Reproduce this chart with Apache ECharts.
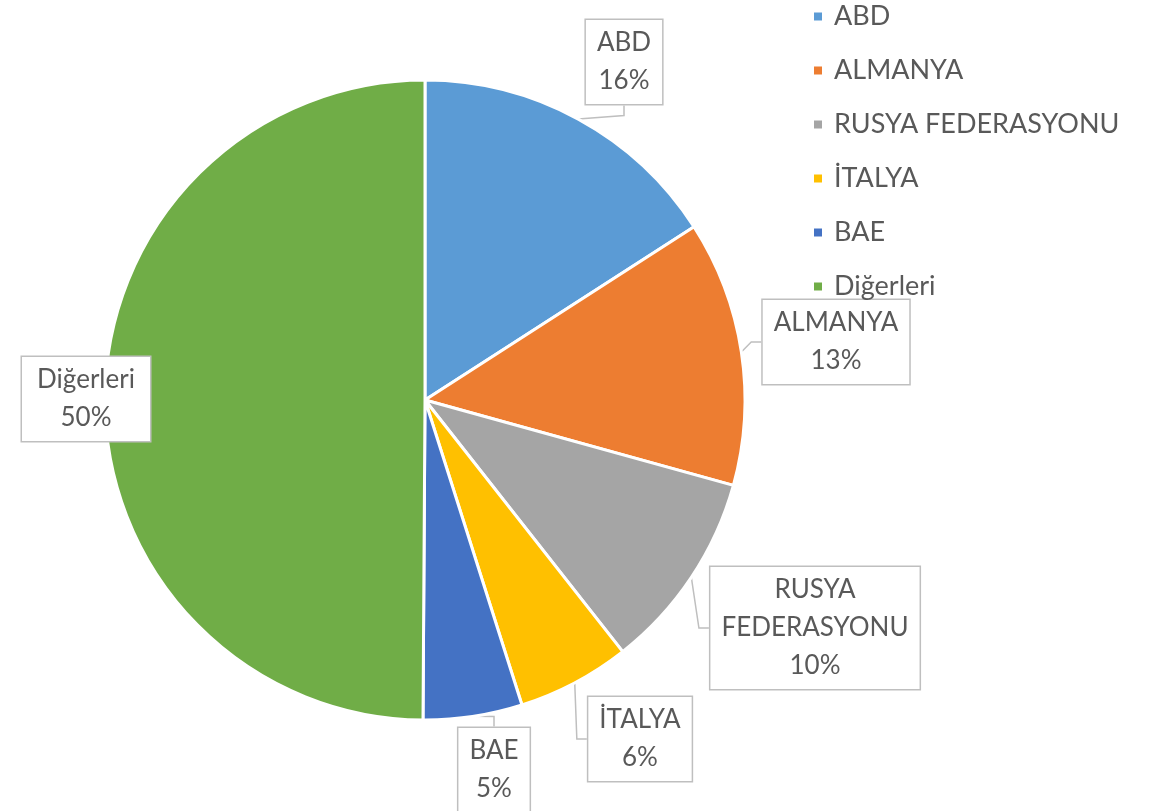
<!DOCTYPE html>
<html>
<head>
<meta charset="utf-8">
<script src="https://cdn.jsdelivr.net/npm/echarts@6/dist/echarts.min.js"></script>
<style>
  html, body { margin: 0; padding: 0; background: #fff; }
  #chart { width: 1152px; height: 811px; }
</style>
</head>
<body>
<div id="chart"></div>
<script>
const countries = ['ABD', 'ALMANYA', 'RUSYA FEDERASYONU', 'İTALYA', 'BAE', 'Diğerleri']
const labelNames = ['ABD', 'ALMANYA', 'RUSYA\nFEDERASYONU', 'İTALYA', 'BAE', 'Diğerleri']
const shares = [15.9, 13.4, 10.1, 5.7, 5.0, 49.9]

const palette = ['#5b9bd5', '#ed7d31', '#a5a5a5', '#ffc000', '#4472c4', '#70ad47']
// callout box centres, as placed in the original
const labelSpots = [[624, 62], [836, 342], [815, 628], [640, 739], [494, 770], [86, 399]]

const chart = echarts.init(document.getElementById('chart'))
chart.setOption({
  color: palette,
  animation: false,
  legend: {
    orient: 'vertical',
    left: 812,
    top: 3,
    padding: 0,
    icon: 'rect',
    itemWidth: 10,
    itemHeight: 10,
    itemGap: 27,
    textStyle: { color: '#595959', fontSize: 27, fontFamily: 'Lato', lineHeight: 24, padding: [0, 0, 0, 6] },
    data: countries
  },
  series: [{
    type: 'pie',
    center: [425, 400],
    radius: 320,
    startAngle: 90,
    clockwise: true,
    itemStyle: { borderColor: '#fff', borderWidth: 3 },
    label: {
      show: true,
      position: 'outside',
      color: '#595959',
      fontSize: 26,
      fontFamily: 'Lato',
      lineHeight: 38,
      align: 'center',
      backgroundColor: '#fff',
      borderColor: '#bfbfbf',
      borderWidth: 1.5,
      padding: [4, 11],
      formatter: p => labelNames[p.dataIndex] + '\n' + Math.round(p.value) + '%'
    },
    labelLine: { show: true, length: 10, length2: 10, lineStyle: { color: '#bfbfbf', width: 1.5 } },
    labelLayout: p => ({
      x: labelSpots[p.dataIndex][0],
      y: labelSpots[p.dataIndex][1],
      align: 'center',
      verticalAlign: 'middle'
    }),
    data: countries.map((name, i) => {
      const item = { name, value: shares[i] }
      // the left label would be squeezed by the pie's edge fitting otherwise
      if (i === 5) item.label = { width: 106 }
      return item
    })
  }]
})
</script>
</body>
</html>
